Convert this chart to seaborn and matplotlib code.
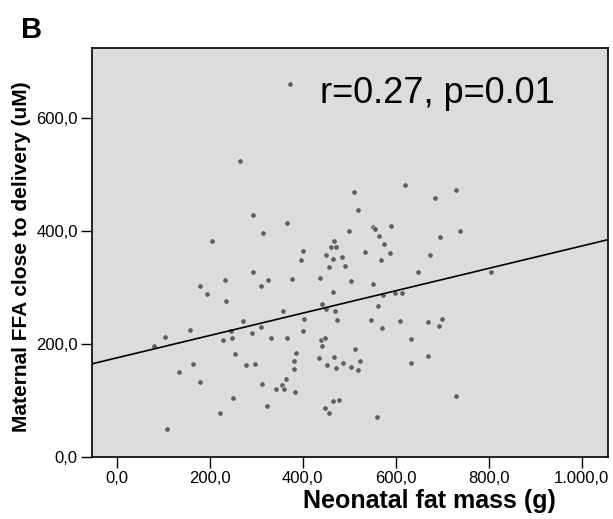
import matplotlib
matplotlib.use("Agg")
import matplotlib.pyplot as plt
import numpy as np
import pandas as pd
import seaborn as sns

# Neonatal fat mass (g)
fat_mass = [373, 265, 292, 366, 511, 520, 620, 730, 685, 314, 205, 499, 552, 555, 591, 738,
            468, 460, 472, 401, 533, 451, 465, 485, 396, 456, 491, 564, 695, 574, 588, 569,
            674, 649, 806, 294, 233, 179, 195, 326, 310, 378, 437, 505, 551,
            466, 573, 598, 613, 235, 441, 450, 469, 473, 357, 271, 402, 400, 562, 548, 609,
            571, 670, 700, 694, 633, 310, 291, 332, 366, 439, 448, 157, 103, 246, 247, 229,
            80, 442, 513, 386, 254, 436, 467, 382, 382, 486, 523, 504, 520, 472, 452, 279,
            297, 164, 133, 178, 670, 633, 363, 313, 355, 343, 360, 383, 251, 730,
            221, 323, 466, 478, 447, 457, 109, 560]
# Maternal FFA close to delivery (uM)
ffa = [659, 524, 427, 414, 468, 437, 481, 471, 457, 396, 381, 400, 407, 403, 409, 400,
       381, 371, 371, 364, 363, 356, 350, 354, 348, 336, 337, 391, 388, 376, 360, 348,
       356, 327, 326, 327, 312, 302, 288, 313, 302, 314, 316, 311, 306,
       292, 286, 289, 290, 275, 270, 261, 258, 241, 257, 240, 244, 223, 266, 242, 240,
       228, 239, 243, 231, 209, 230, 219, 210, 210, 207, 210, 224, 212, 222, 210, 207,
       196, 196, 190, 184, 181, 175, 177, 169, 156, 166, 170, 159, 154, 157, 162, 163,
       164, 164, 149, 133, 178, 166, 138, 128, 127, 120, 120, 115, 104, 108,
       77, 89, 98, 100, 86, 77, 49, 70]

x_ticks = [0, 200, 400, 600, 800, 1000]
x_tick_labels = ["0,0", "200,0", "400,0", "600,0", "800,0", "1.000,0"]
y_ticks = [0, 200, 400, 600]
y_tick_labels = ["0,0", "200,0", "400,0", "600,0"]

sns.set_style("ticks")
plt.rcParams["font.family"] = ["Liberation Sans", "DejaVu Sans"]
plt.rcParams["text.color"] = "black"
plt.rcParams["axes.labelcolor"] = "black"
plt.rcParams["xtick.color"] = "black"
plt.rcParams["ytick.color"] = "black"

fig = plt.figure(figsize=(6.13, 5.19), dpi=100)
ax = fig.add_axes([0.1496, 0.1200, 0.8423, 0.7875])
ax.set_facecolor("#dcdcdc")
ax.set_xlim(-54, 1057)
ax.set_ylim(0, 723)

df = pd.DataFrame({"fat": fat_mass, "ffa": ffa})
sns.regplot(data=df, x="fat", y="ffa", ax=ax, ci=None, truncate=False,
            scatter_kws=dict(s=16, color="#404040", edgecolor="#f2f2f2", linewidths=0.6),
            line_kws=dict(color="black", lw=1.2))
ax.set_xlim(-54, 1057)
ax.set_ylim(0, 723)

ax.set_xticks(x_ticks)
ax.set_xticklabels(x_tick_labels)
ax.set_yticks(y_ticks)
ax.set_yticklabels(y_tick_labels)
ax.tick_params(direction="out", length=8, width=1, color="black", labelsize=12, pad=2,
               labelcolor="black")
for s in ax.spines.values():
    s.set_visible(True)
    s.set_color("black")
    s.set_linewidth(1.2)

ax.set_xlabel("Neonatal fat mass (g)", fontsize=18, fontweight="bold", color="black")
ax.xaxis.set_label_coords(0.655, -0.078)
ax.set_ylabel("Maternal FFA close to delivery (uM)", fontsize=15, fontweight="bold",
              color="black")
ax.yaxis.set_label_coords(-0.118, 0.49)

ax.text(0.442, 0.865, "r=0.27, p=0.01", transform=ax.transAxes, fontsize=26,
        ha="left", va="baseline", color="black")
fig.text(21 / 613, 1 - 16 / 519, "B", fontsize=21, fontweight="bold", ha="left", va="top",
         color="black")

fig.savefig("out.png", dpi=100, facecolor="white")
